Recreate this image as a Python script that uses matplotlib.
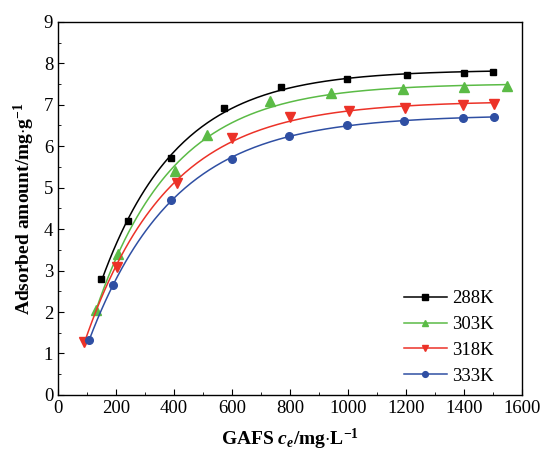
import numpy as np
import matplotlib
matplotlib.use("Agg")
import matplotlib.pyplot as plt

# Data
labels = ["288K", "303K", "318K", "333K"]

c_288 = [150, 243, 390, 572, 770, 995, 1205, 1400, 1500]
q_288 = [2.80, 4.20, 5.72, 6.91, 7.42, 7.62, 7.72, 7.77, 7.80]

c_303 = [130, 207, 405, 513, 730, 940, 1190, 1400, 1548]
q_303 = [2.05, 3.40, 5.39, 6.28, 7.08, 7.28, 7.37, 7.42, 7.45]

c_318 = [90, 203, 410, 600, 800, 1003, 1195, 1397, 1503]
q_318 = [1.28, 3.09, 5.12, 6.20, 6.70, 6.85, 6.93, 6.99, 7.03]

c_333 = [108, 190, 390, 600, 795, 996, 1192, 1395, 1505]
q_333 = [1.33, 2.65, 4.71, 5.68, 6.25, 6.52, 6.62, 6.67, 6.70]

colors = ["#000000", "#5bbb46", "#ec3228", "#2f4fa3"]
markers = ["s", "^", "v", "o"]
msizes = [5, 6.5, 6.5, 5.5]

plt.rcParams["font.family"] = ["Liberation Serif", "DejaVu Serif"]
plt.rcParams["mathtext.fontset"] = "custom"
plt.rcParams["mathtext.rm"] = "Liberation Serif:bold"
plt.rcParams["mathtext.it"] = "Liberation Serif:italic:bold"
plt.rcParams["mathtext.bf"] = "Liberation Serif:bold"


def fit_curve(c, q):
    # saturating fit q = A + B*exp(-k*c), grid search over k, least squares for A, B
    c = np.asarray(c, float)
    q = np.asarray(q, float)
    best = None
    for k in np.linspace(0.0005, 0.01, 400):
        X = np.column_stack([np.ones_like(c), np.exp(-k * c)])
        coef, *_ = np.linalg.lstsq(X, q, rcond=None)
        err = np.sum((X @ coef - q) ** 2)
        if best is None or err < best[0]:
            best = (err, k, coef)
    _, k, (A, B) = best
    xs = np.linspace(c.min(), c.max(), 200)
    return xs, A + B * np.exp(-k * xs)


fig = plt.figure(figsize=(5.42, 4.55), dpi=100)
ax = fig.add_axes([0.107, 0.132, 0.856, 0.820])

all_c = [c_288, c_303, c_318, c_333]
all_q = [q_288, q_303, q_318, q_333]

for c, q, col, m, ms, lab in zip(all_c, all_q, colors, markers, msizes, labels):
    xs, ys = fit_curve(c, q)
    ax.plot(xs, ys, color=col, lw=1.1)
    ax.plot(c, q, linestyle="none", marker=m, ms=ms, color=col)
    # legend proxy: line with marker
    ax.plot([], [], color=col, lw=1.1, marker=m, ms=ms * 0.75, label=lab)

ax.set_xlim(0, 1600)
ax.set_ylim(0, 9)
ax.set_xticks(np.arange(0, 1601, 200))
ax.set_xticks(np.arange(0, 1601, 100), minor=True)
ax.set_yticks(np.arange(0, 10, 1))
ax.set_yticks(np.arange(0, 9.01, 0.5), minor=True)
ax.tick_params(which="both", direction="in", top=False, right=False)
ax.tick_params(which="major", length=4, labelsize=13.5)
ax.tick_params(which="minor", length=2.5)
for s in ax.spines.values():
    s.set_linewidth(1.0)

ax.set_xlabel("GAFS $c_e$/mg$\\cdot$L$^{-1}$", fontsize=14, fontweight="bold", labelpad=7)
ax.set_ylabel("Adsorbed amount/mg$\\cdot$g$^{-1}$", fontsize=14, fontweight="bold", labelpad=5)

ax.legend(loc="lower right", frameon=False, fontsize=13.5, handlelength=2.3,
          handletextpad=0.3, labelspacing=0.46, borderaxespad=0.15,
          bbox_to_anchor=(0.962, 0.0))

fig.savefig("out.png", dpi=100)
